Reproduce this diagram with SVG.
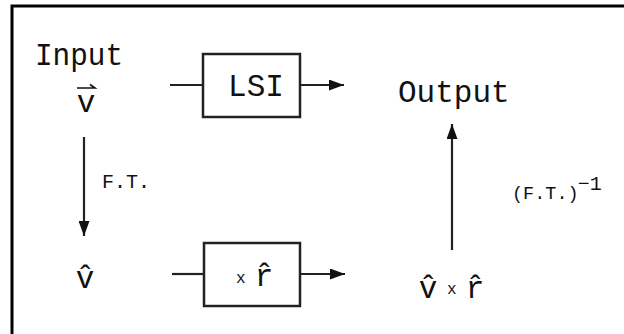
<svg xmlns="http://www.w3.org/2000/svg" width="624" height="334" viewBox="0 0 624 334">
<style>
.t{font-family:"Liberation Mono","Courier New",monospace;fill:#111}
.big{font-size:31px}
.lab{font-size:20px}
.sm{font-size:18.5px}
.sup{font-size:20px}
.x{font-size:16px}
.box{fill:none;stroke:#222;stroke-width:2.5}
.ln{fill:none;stroke:#222;stroke-width:2.2}
</style>
<defs>
<marker id="ah" viewBox="0 0 15 11" refX="15" refY="5.5" markerWidth="15" markerHeight="11" markerUnits="userSpaceOnUse" orient="auto">
<path d="M0,0 L15,5.5 L0,11 Z" fill="#111"/>
</marker>
</defs>
<rect width="624" height="334" fill="#fff"/>
<g id="frame">
<path d="M12,334 V6 H624" fill="none" stroke="#000" stroke-width="3"/>
</g>
<g id="connectors">
<line class="ln" x1="170" y1="85" x2="203" y2="85"/>
<line class="ln" x1="300" y1="85" x2="344" y2="85" marker-end="url(#ah)"/>
<line class="ln" x1="84" y1="137" x2="84" y2="236" marker-end="url(#ah)"/>
<line class="ln" x1="172" y1="274" x2="204" y2="274"/>
<line class="ln" x1="300" y1="274" x2="345" y2="274" marker-end="url(#ah)"/>
<line class="ln" x1="452" y1="250" x2="452" y2="124" marker-end="url(#ah)"/>
</g>
<g id="input">
<text class="t big" x="35" y="65" textLength="88" lengthAdjust="spacingAndGlyphs">Input</text>
<text class="t big" x="86" y="112" text-anchor="middle">v</text>
<path d="M77,88 H95 L90,84.5" fill="none" stroke="#111" stroke-width="1.6"/>
</g>
<g id="lsi">
<rect class="box" x="203" y="54" width="97" height="63"/>
<text class="t big" x="256" y="96" text-anchor="middle">LSI</text>
</g>
<g id="output">
<text class="t big" x="398" y="102">Output</text>
</g>
<g id="ft-label">
<text class="t lab" x="102" y="188">F.T.</text>
</g>
<g id="ift-label">
<text class="t sm" x="512" y="199">(F.T.)<tspan class="sup" dx="-1" dy="-9">−1</tspan></text>
</g>
<g id="vhat">
<text class="t big" x="85" y="288" text-anchor="middle">v̂</text>
</g>
<g id="rbox">
<rect class="box" x="204" y="243" width="96" height="63"/>
<text class="t x" x="236" y="283">x</text>
<text class="t big" x="264" y="286" text-anchor="middle">r̂</text>
</g>
<g id="vxr">
<text class="t big" x="428" y="298" text-anchor="middle">v̂</text>
<text class="t x" x="447" y="294">x</text>
<text class="t big" x="475" y="298" text-anchor="middle">r̂</text>
</g>
</svg>
